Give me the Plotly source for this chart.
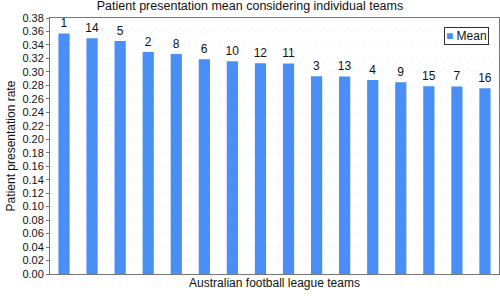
import plotly.graph_objects as go

teams = ["1", "14", "5", "2", "8", "6", "10", "12", "11", "3", "13", "4", "9", "15", "7", "16"]
means = [0.357, 0.350, 0.346, 0.3295, 0.3266, 0.3187, 0.3157, 0.3127, 0.3125, 0.2934, 0.2932, 0.288, 0.2845, 0.2786, 0.2784, 0.2756]
y_ticks = [round(i * 0.02, 2) for i in range(20)]
bar_color = "#4a8ff5"

fig = go.Figure()
fig.add_trace(go.Bar(
    x=list(range(len(teams))), y=means, name="Mean",
    text=teams, textposition="outside", cliponaxis=False,
    constraintext="none",
    textfont=dict(size=12, color="#111"),
    marker=dict(color=bar_color, line=dict(width=0)),
    width=0.4, showlegend=False,
))
font = "Liberation Sans, Arial, sans-serif"
fig.update_layout(
    width=500, height=296,
    margin=dict(l=50, r=1, t=18, b=22),
    paper_bgcolor="white", plot_bgcolor="white",
    font=dict(family=font, size=12, color="#111"),
    title=dict(text="Patient presentation mean considering individual teams",
               x=0.5, xanchor="center", y=0.995, yanchor="top",
               font=dict(size=12.5, color="#111")),
    showlegend=False,
    xaxis=dict(range=[-0.5, len(teams) - 0.5], showticklabels=False, ticks="",
               showgrid=False, showline=True, linecolor="#777", linewidth=1, mirror=True,
               zeroline=False,
               title=dict(text="Australian football league teams", standoff=4,
                          font=dict(size=12))),
    yaxis=dict(range=[0, 0.38], tickvals=y_ticks, ticktext=[f"{v:.2f}" for v in y_ticks],
               ticks="outside", ticklen=3, tickcolor="#777",
               showgrid=True, gridcolor="#f5f5f5", griddash="dot",
               showline=True, linecolor="#777", linewidth=1, mirror=True, zeroline=False,
               tickfont=dict(size=11),
               title=dict(text="Patient presentation rate", standoff=4, font=dict(size=12))),
    annotations=[dict(
        xref="paper", yref="paper", x=0.978, y=0.965, xanchor="right", yanchor="top",
        text=f"<span style='color:{bar_color}'>■</span> Mean", showarrow=False,
        bgcolor="white", bordercolor="#333", borderwidth=1, borderpad=1,
        font=dict(size=12, color="#111"),
    )],
)
fig.write_html("out.html", config={"displayModeBar": False},
               post_script="document.body.style.margin='0';")
